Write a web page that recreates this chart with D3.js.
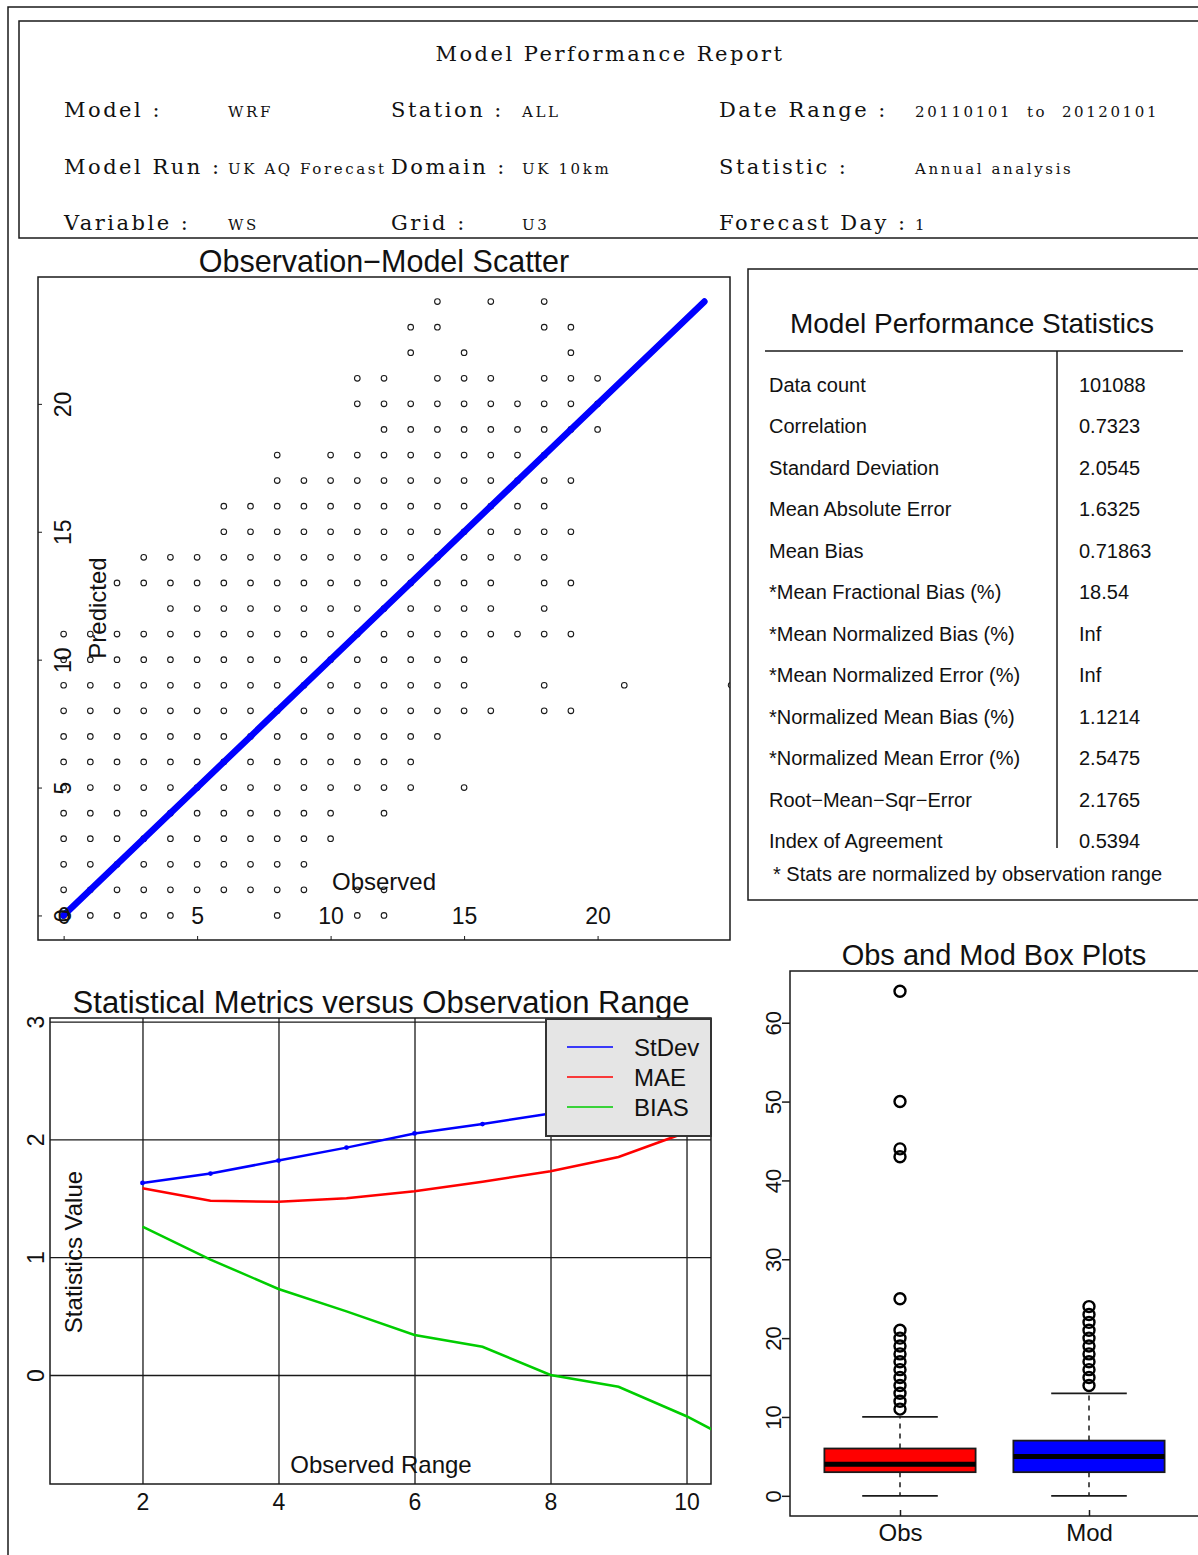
<!DOCTYPE html>
<html>
<head>
<meta charset="utf-8">
<script src="https://cdn.jsdelivr.net/npm/d3@7"></script>
<style>
  body { margin: 0; background: #fff; }
  svg text { font-family: "Liberation Sans", Arial, sans-serif; fill: #111; }
  .serif { font-family: "DejaVu Serif", serif; white-space: pre; }
</style>
</head>
<body>
<svg id="chart" width="1198" height="1555"></svg>
<script>
// ---------------- data ----------------
var reportTitle = "Model Performance Report";
var headerLabels = [["Model :", "Station :", "Date Range :"],
                    ["Model Run :", "Domain :", "Statistic :"],
                    ["Variable :", "Grid :", "Forecast Day :"]];
var headerValues = [["WRF", "ALL", "20110101  to  20120101"],
                    ["UK AQ Forecast", "UK 10km", "Annual analysis"],
                    ["WS", "U3", "1"]];

// scatter: observed values found at each predicted level
var predLevels = [24, 23, 22, 21, 20, 19, 18, 17, 16, 15, 14, 13, 12, 11, 10, 9, 8, 7, 6, 5, 4, 3, 2, 1, 0];
var obsAtPred = [
  [14, 16, 18],
  [13, 14, 18, 19],
  [13, 15, 19],
  [11, 12, 14, 15, 16, 18, 19, 20],
  [11, 12, 13, 14, 15, 16, 17, 18, 19, 20],
  [12, 13, 14, 15, 16, 17, 18, 19, 20],
  [8, 10, 11, 12, 13, 14, 15, 16, 17, 18],
  [8, 9, 10, 11, 12, 13, 14, 15, 16, 17, 18, 19],
  [6, 7, 8, 9, 10, 11, 12, 13, 14, 15, 16, 17, 18],
  [6, 7, 8, 9, 10, 11, 12, 13, 14, 15, 16, 17, 18, 19],
  [3, 4, 5, 6, 7, 8, 9, 10, 11, 12, 13, 14, 15, 16, 17, 18],
  [2, 3, 4, 5, 6, 7, 8, 9, 10, 11, 12, 13, 14, 15, 16, 18, 19],
  [4, 5, 6, 7, 8, 9, 10, 11, 12, 13, 14, 15, 16, 18],
  [0, 1, 2, 3, 4, 5, 6, 7, 8, 9, 10, 11, 12, 13, 14, 15, 16, 17, 18, 19],
  [0, 1, 2, 3, 4, 5, 6, 7, 8, 9, 10, 11, 12, 13, 14, 15],
  [0, 1, 2, 3, 4, 5, 6, 7, 8, 9, 10, 11, 12, 13, 14, 15, 18, 21, 25],
  [0, 1, 2, 3, 4, 5, 6, 7, 8, 9, 10, 11, 12, 13, 14, 15, 16, 18, 19],
  [0, 1, 2, 3, 4, 5, 6, 7, 8, 9, 10, 11, 12, 13, 14],
  [0, 1, 2, 3, 4, 5, 6, 7, 8, 9, 10, 11, 12, 13],
  [0, 1, 2, 3, 4, 5, 6, 7, 8, 9, 10, 11, 12, 13, 15],
  [0, 1, 2, 3, 4, 5, 6, 7, 8, 9, 10, 12],
  [0, 1, 2, 3, 4, 5, 6, 7, 8, 9, 10],
  [0, 1, 2, 3, 4, 5, 6, 7, 8, 9],
  [0, 1, 2, 3, 4, 5, 6, 7, 8, 9, 11, 12],
  [0, 1, 2, 3, 4, 8, 11, 12]
];
var oneToOne = [0, 24];
var scatterTicks = [0, 5, 10, 15, 20];

// model performance statistics table
var statNames = ["Data count", "Correlation", "Standard Deviation", "Mean Absolute Error", "Mean Bias",
  "*Mean Fractional Bias (%)", "*Mean Normalized Bias (%)", "*Mean Normalized Error (%)",
  "*Normalized Mean Bias (%)", "*Normalized Mean Error (%)", "Root\u2212Mean\u2212Sqr\u2212Error", "Index of Agreement"];
var statValues = ["101088", "0.7323", "2.0545", "1.6325", "0.71863", "18.54", "Inf", "Inf",
  "1.1214", "2.5475", "2.1765", "0.5394"];
var statNote = "* Stats are normalized by observation range";

// metrics versus observation range
var obsRange = [1, 2, 3, 4, 5, 6, 7, 8, 9, 10, 11];
var stdevVals = [null, 1.63, 1.71, 1.82, 1.93, 2.05, 2.13, 2.22, 2.32, 2.43, 2.55];
var maeVals = [null, 1.585, 1.48, 1.47, 1.50, 1.56, 1.64, 1.73, 1.85, 2.06, 2.35];
var biasVals = [null, 1.26, 0.98, 0.73, 0.54, 0.34, 0.24, 0.0, -0.10, -0.35, -0.65];
var metricNames = ["StDev", "MAE", "BIAS"];
var metricColors = ["#0000ff", "#ff0000", "#00cd00"];
var rangeTicksX = [2, 4, 6, 8, 10];
var rangeTicksY = [0, 1, 2, 3];

// box plots
var boxNames = ["Obs", "Mod"];
var boxColors = ["#ff0000", "#0000ff"];
var boxLow = [0, 0];
var boxQ1 = [3, 3];
var boxMedian = [4, 5];
var boxQ3 = [6, 7];
var boxHigh = [10, 13];
var obsOutliers = [11, 12, 13, 14, 15, 16, 17, 18, 19, 20, 21, 25, 43, 44, 50, 64];
var modOutliers = [14, 15, 16, 17, 18, 19, 20, 21, 22, 23, 24];
var boxTicks = [0, 10, 20, 30, 40, 50, 60];

// ---------------- drawing ----------------
var svg = d3.select("#chart");
var ink = "#1a1a1a";
var defs = svg.append("defs");

function frame(x, y, w, h) {
  svg.append("rect").attr("x", x).attr("y", y).attr("width", w).attr("height", h)
    .attr("fill", "none").attr("stroke", ink).attr("stroke-width", 1.5);
}

// outer page frame
svg.append("path").attr("d", "M8,1555V7H1198").attr("fill", "none").attr("stroke", ink).attr("stroke-width", 1.5);

// ---- header ----
frame(19, 21, 1200, 217);
svg.append("text").attr("class", "serif").attr("x", 610).attr("y", 61)
  .attr("text-anchor", "middle").style("font-size", "21px").style("letter-spacing", "2.5px")
  .text(reportTitle);

var labelCols = [64, 391, 719], valueCols = [228, 522, 915], rowBase = [117, 174, 230];
headerLabels.forEach(function (row, r) {
  row.forEach(function (lab, c) {
    svg.append("text").attr("class", "serif").attr("x", labelCols[c]).attr("y", rowBase[r])
      .style("font-size", "21px").style("letter-spacing", "2.5px").text(lab);
    svg.append("text").attr("class", "serif").attr("x", valueCols[c]).attr("y", rowBase[r])
      .style("font-size", "15px").style("letter-spacing", "2.6px").text(headerValues[r][c]);
  });
});

// ---- scatter ----
var sc = { left: 38, top: 277, width: 692, height: 663 };
frame(sc.left, sc.top, sc.width, sc.height);
var sx = d3.scaleLinear().domain([-0.96, 24.96]).range([sc.left, sc.left + sc.width]);
var sy = d3.scaleLinear().domain([-0.96, 24.96]).range([sc.top + sc.height, sc.top]);

defs.append("clipPath").attr("id", "clipScatter").append("rect")
  .attr("x", sc.left).attr("y", sc.top).attr("width", sc.width).attr("height", sc.height);

svg.append("text").attr("x", sc.left + sc.width / 2).attr("y", 272).attr("text-anchor", "middle")
  .style("font-size", "30.5px").text("Observation\u2212Model Scatter");

var scatterPts = [];
predLevels.forEach(function (p, i) {
  obsAtPred[i].forEach(function (o) { scatterPts.push({ obs: o, pred: p }); });
});

var sg = svg.append("g").attr("clip-path", "url(#clipScatter)");
sg.selectAll("circle").data(scatterPts).enter().append("circle")
  .attr("cx", function (d) { return sx(d.obs); })
  .attr("cy", function (d) { return sy(d.pred); })
  .attr("r", 2.8).attr("fill", "none").attr("stroke", ink).attr("stroke-width", 1.1);

sg.append("line")
  .attr("x1", sx(oneToOne[0])).attr("y1", sy(oneToOne[0]))
  .attr("x2", sx(oneToOne[1])).attr("y2", sy(oneToOne[1]))
  .attr("stroke", "#0000ff").attr("stroke-width", 6.5).attr("stroke-linecap", "round");

// x axis: inward ticks, labels inside the frame
var sxAxis = svg.append("g").attr("transform", "translate(0," + (sc.top + sc.height) + ")")
  .call(d3.axisBottom(sx).tickValues(scatterTicks).tickSize(-4).tickFormat(d3.format("d")));
sxAxis.select(".domain").remove();
sxAxis.selectAll("line").attr("stroke", ink);
sxAxis.selectAll("text").attr("y", -16).attr("dy", null).style("font-size", "23px").attr("fill", "#111");

var syAxis = svg.append("g").attr("transform", "translate(" + sc.left + ",0)")
  .call(d3.axisLeft(sy).tickValues(scatterTicks).tickSize(-4).tickFormat(d3.format("d")));
syAxis.select(".domain").remove();
syAxis.selectAll("line").attr("stroke", ink);
syAxis.selectAll("text").attr("x", null).attr("dy", null).attr("text-anchor", "middle")
  .attr("transform", "translate(33,0) rotate(-90)").style("font-size", "23px").attr("fill", "#111");

svg.append("text").attr("x", 384).attr("y", 890).attr("text-anchor", "middle")
  .style("font-size", "24px").text("Observed");
svg.append("text").attr("transform", "translate(106,608) rotate(-90)").attr("text-anchor", "middle")
  .style("font-size", "24px").text("Predicted");

// ---- statistics table ----
frame(748, 269, 470, 631);
svg.append("text").attr("x", 972).attr("y", 333).attr("text-anchor", "middle")
  .style("font-size", "28px").text("Model Performance Statistics");
svg.append("line").attr("x1", 765).attr("x2", 1183).attr("y1", 351).attr("y2", 351)
  .attr("stroke", ink).attr("stroke-width", 1.5);
svg.append("line").attr("x1", 1057).attr("x2", 1057).attr("y1", 351).attr("y2", 848)
  .attr("stroke", ink).attr("stroke-width", 1.5);
var rowY = d3.scaleLinear().domain([0, statNames.length - 1]).range([392, 848]);
statNames.forEach(function (name, i) {
  svg.append("text").attr("x", 769).attr("y", rowY(i)).style("font-size", "20px").text(name);
  svg.append("text").attr("x", 1079).attr("y", rowY(i)).style("font-size", "20px").text(statValues[i]);
});
svg.append("text").attr("x", 773).attr("y", 881).style("font-size", "20px").text(statNote);

// ---- metrics versus observation range ----
var lc = { left: 50, top: 1018, width: 661, height: 466 };
var lx = d3.scaleLinear().domain([0.64, 10.36]).range([lc.left, lc.left + lc.width]);
var ly = d3.scaleLinear().domain([-0.925, 3.03]).range([lc.top + lc.height, lc.top]);
defs.append("clipPath").attr("id", "clipRange").append("rect")
  .attr("x", lc.left).attr("y", lc.top).attr("width", lc.width).attr("height", lc.height);

svg.append("text").attr("x", 381).attr("y", 1013).attr("text-anchor", "middle")
  .style("font-size", "31px").text("Statistical Metrics versus Observation Range");

var lxAxis = svg.append("g").attr("transform", "translate(0," + (lc.top + lc.height) + ")")
  .call(d3.axisBottom(lx).tickValues(rangeTicksX).tickSize(-lc.height).tickPadding(0)
    .tickFormat(d3.format("d")));
lxAxis.select(".domain").remove();
lxAxis.selectAll("line").attr("stroke", ink).attr("stroke-width", 1.3);
lxAxis.selectAll("text").attr("y", 26).attr("dy", null).style("font-size", "23px").attr("fill", "#111");

var lyAxis = svg.append("g").attr("transform", "translate(" + lc.left + ",0)")
  .call(d3.axisLeft(ly).tickValues(rangeTicksY).tickSize(-lc.width).tickFormat(d3.format("d")));
lyAxis.select(".domain").remove();
lyAxis.selectAll("line").attr("stroke", ink).attr("stroke-width", 1.3);
lyAxis.selectAll("text").attr("x", null).attr("dy", null).attr("text-anchor", "middle")
  .attr("transform", "translate(-6,0) rotate(-90)").style("font-size", "23px").attr("fill", "#111");

frame(lc.left, lc.top, lc.width, lc.height);

var lineGen = d3.line()
  .defined(function (d) { return d[1] !== null; })
  .x(function (d) { return lx(d[0]); })
  .y(function (d) { return ly(d[1]); });
var metricSeries = [stdevVals, maeVals, biasVals];
var lg = svg.append("g").attr("clip-path", "url(#clipRange)");
metricSeries.forEach(function (vals, k) {
  var pts = obsRange.map(function (x, i) { return [x, vals[i]]; });
  lg.append("path").datum(pts).attr("d", lineGen).attr("fill", "none")
    .attr("stroke", metricColors[k]).attr("stroke-width", 2.5);
});
lg.selectAll(".sdpt").data(obsRange.map(function (x, i) { return [x, stdevVals[i]]; })
    .filter(function (d) { return d[1] !== null; }))
  .enter().append("circle").attr("class", "sdpt")
  .attr("cx", function (d) { return lx(d[0]); }).attr("cy", function (d) { return ly(d[1]); })
  .attr("r", 2.4).attr("fill", "#0000ff");

svg.append("text").attr("x", 381).attr("y", 1473).attr("text-anchor", "middle")
  .style("font-size", "24px").text("Observed Range");
svg.append("text").attr("transform", "translate(82,1252) rotate(-90)").attr("text-anchor", "middle")
  .style("font-size", "24px").text("Statistics Value");

// legend
var leg = svg.append("g").attr("transform", "translate(546,1019)");
leg.append("rect").attr("width", 165).attr("height", 117).attr("fill", "#e5e5e5")
  .attr("stroke", "#333").attr("stroke-width", 2);
metricNames.forEach(function (name, i) {
  var yy = 28 + i * 30;
  leg.append("line").attr("x1", 21).attr("x2", 67).attr("y1", yy).attr("y2", yy)
    .attr("stroke", metricColors[i]).attr("stroke-width", 1.5);
  leg.append("text").attr("x", 88).attr("y", yy + 8.6).style("font-size", "24px").text(name);
});

// ---- box plots ----
var bp = { left: 790, top: 971, width: 430, height: 545 };
var bx = d3.scaleLinear().domain([1, 2]).range([900, 1089]);
var by = d3.scaleLinear().domain([-2.56, 66.56]).range([bp.top + bp.height, bp.top]);

svg.append("text").attr("x", 994).attr("y", 965).attr("text-anchor", "middle")
  .style("font-size", "29px").text("Obs and Mod Box Plots");

var outlierSets = [obsOutliers, modOutliers];
boxNames.forEach(function (name, i) {
  var cx = bx(i + 1), hw = bx(1.4) - bx(1), cw = bx(1.2) - bx(1);
  var g = svg.append("g");
  // dashed whiskers
  g.append("line").attr("x1", cx).attr("x2", cx).attr("y1", by(boxQ3[i])).attr("y2", by(boxHigh[i]))
    .attr("stroke", ink).attr("stroke-width", 1.5).attr("stroke-dasharray", "5,5");
  g.append("line").attr("x1", cx).attr("x2", cx).attr("y1", by(boxQ1[i])).attr("y2", by(boxLow[i]))
    .attr("stroke", ink).attr("stroke-width", 1.5).attr("stroke-dasharray", "5,5");
  [boxHigh[i], boxLow[i]].forEach(function (v) {
    g.append("line").attr("x1", cx - cw).attr("x2", cx + cw).attr("y1", by(v)).attr("y2", by(v))
      .attr("stroke", ink).attr("stroke-width", 1.8);
  });
  g.append("rect").attr("x", cx - hw).attr("width", 2 * hw)
    .attr("y", by(boxQ3[i])).attr("height", by(boxQ1[i]) - by(boxQ3[i]))
    .attr("fill", boxColors[i]).attr("stroke", ink).attr("stroke-width", 1.8);
  g.append("line").attr("x1", cx - hw).attr("x2", cx + hw).attr("y1", by(boxMedian[i])).attr("y2", by(boxMedian[i]))
    .attr("stroke", "#000").attr("stroke-width", 5);
  g.selectAll(".out").data(outlierSets[i]).enter().append("circle").attr("class", "out")
    .attr("cx", cx).attr("cy", function (d) { return by(d); })
    .attr("r", 5.5).attr("fill", "none").attr("stroke", "#000").attr("stroke-width", 2.4);
});

var byAxis = svg.append("g").attr("transform", "translate(" + bp.left + ",0)")
  .call(d3.axisLeft(by).tickValues(boxTicks).tickSize(8));
byAxis.select(".domain").remove();
byAxis.selectAll("line").attr("stroke", ink).attr("stroke-width", 1.5);
byAxis.selectAll("text").attr("x", null).attr("dy", null).attr("text-anchor", "middle")
  .attr("transform", "translate(-9,0) rotate(-90)").style("font-size", "22px").attr("fill", "#111");

var bxAxis = svg.append("g").attr("transform", "translate(0," + (bp.top + bp.height) + ")")
  .call(d3.axisBottom(bx).tickValues([1, 2]).tickSize(-6)
    .tickFormat(function (d) { return boxNames[d - 1]; }));
bxAxis.select(".domain").remove();
bxAxis.selectAll("line").attr("stroke", ink).attr("stroke-width", 1.5);
bxAxis.selectAll("text").attr("y", 25).attr("dy", null).style("font-size", "24px").attr("fill", "#111");

frame(bp.left, bp.top, bp.width, bp.height);
</script>
</body>
</html>
